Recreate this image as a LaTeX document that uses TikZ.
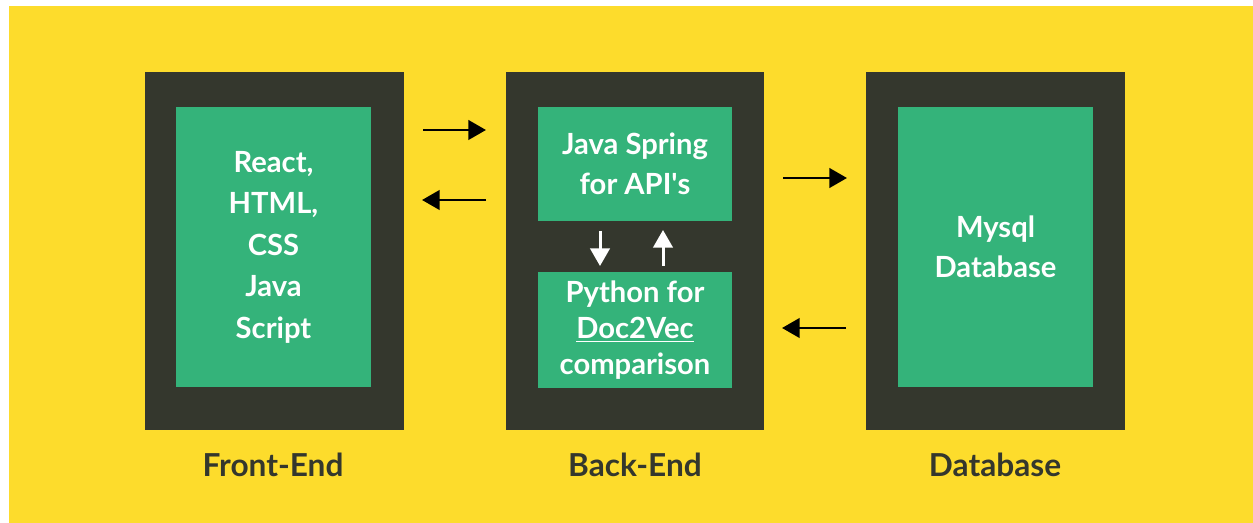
\documentclass[tikz,border=0pt]{standalone}
\usepackage{fontspec}
\setmainfont{Lato}
\usetikzlibrary{arrows.meta}
\definecolor{bgyellow}{HTML}{FDDC2C}
\definecolor{darkbox}{HTML}{34372D}
\definecolor{greenbox}{HTML}{34B37A}
\tikzset{>={Triangle[length=10pt,width=11pt]}}
\tikzset{
  outerbox/.style={fill=darkbox, draw=none, minimum width=5.18cm, minimum height=7.16cm, inner sep=0pt},
  innerbox/.style={fill=greenbox, draw=none, text=white, font=\bfseries\fontsize{16.6}{23.6}\selectfont, align=center, inner sep=0pt},
  layer/.style={text=darkbox, font=\bfseries\fontsize{18}{20}\selectfont},
  flow/.style={->, line width=1.7pt, draw=black},
  innerflow/.style={->, line width=1.7pt, draw=white}
}

\begin{document}
\begin{tikzpicture}[x=0.02cm,y=-0.02cm]
        \fill[white] (0,0) rectangle (1253,523);
        \fill[bgyellow] (9,6) rectangle (1253,523);

        % three tiers
        \node[outerbox] (front) at (274.5,251) {};
        \node[outerbox] (back) at (635,251) {};
        \node[outerbox] (db) at (995.5,251) {};

        \node[innerbox, minimum width=3.9cm, minimum height=5.6cm] (react) at (273.5,247) {React,\\HTML,\\CSS\\Java\\Script};
        \node[innerbox, minimum width=3.88cm, minimum height=2.28cm, font=\bfseries\fontsize{16.6}{22.8}\selectfont] (spring) at (635,164) {Java Spring\\for API\textquotesingle s};
        \node[innerbox, minimum width=3.88cm, minimum height=2.32cm, font=\bfseries\fontsize{16.6}{20.5}\selectfont] (python) at (635,330) {Python for\\\underline{Doc2Vec}\\comparison};
        \node[innerbox, minimum width=3.9cm, minimum height=5.6cm, font=\bfseries\fontsize{16.6}{22.8}\selectfont] (mysql) at (995.5,247) {Mysql\\Database};

        \node[layer] (frontlbl) at (273,465) {Front-End};
        \node[layer] (backlbl) at (635,465) {Back-End};
        \node[layer] (dblbl) at (995,465) {Database};

        % arrows between tiers
        \coordinate (fa) at (423,130);
        \coordinate (fb) at (486,130);
        \coordinate (fc) at (486,200);
        \coordinate (fd) at (422,200);
        \draw[flow] (fa) -- (fb);
        \draw[flow] (fc) -- (fd);

        \coordinate (da) at (783,178);
        \coordinate (db1) at (847,178);
        \coordinate (dc) at (846,328);
        \coordinate (dd) at (782,328);
        \draw[flow] (da) -- (db1);
        \draw[flow] (dc) -- (dd);

        % inside the back-end
        \coordinate (sa) at (600,231);
        \coordinate (sb) at (600,266);
        \coordinate (sc) at (663,266);
        \coordinate (sd) at (663,230);
        \draw[innerflow] (sa) -- (sb);
        \draw[innerflow] (sc) -- (sd);
\end{tikzpicture}
\end{document}
